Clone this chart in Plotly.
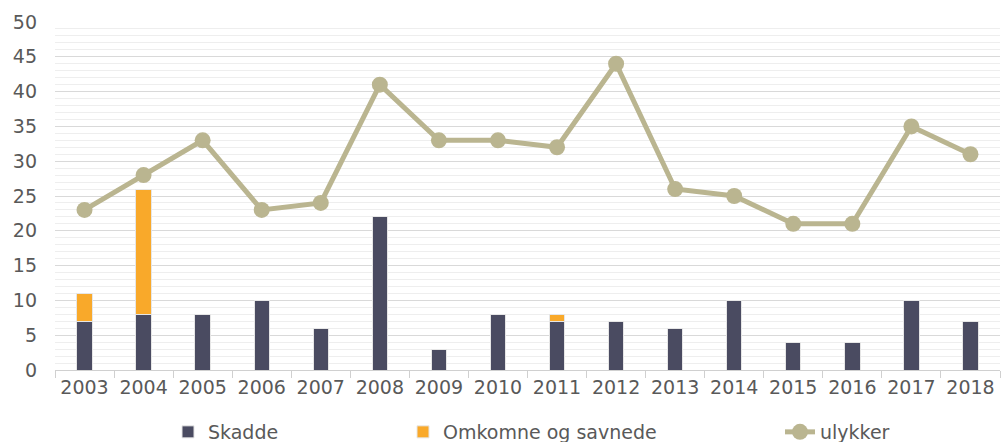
import plotly.graph_objects as go

years = [str(y) for y in range(2003, 2019)]
skadde = [7, 8, 8, 10, 6, 22, 3, 8, 7, 7, 6, 10, 4, 4, 10, 7]
omkomne = [4, 18, 0, 0, 0, 0, 0, 0, 1, 0, 0, 0, 0, 0, 0, 0]
ulykker = [23, 28, 33, 23, 24, 41, 33, 33, 32, 44, 26, 25, 21, 21, 35, 31]

FONT = "DejaVu Sans"
TXT = "#595959"
W, H = 1005, 442

fig = go.Figure()
fig.add_trace(go.Bar(
    x=years, y=skadde, name="Skadde",
    marker=dict(color="#4a4b61", line=dict(color="#e6e6e6", width=1)),
    legend="legend",
))
fig.add_trace(go.Bar(
    x=years, y=omkomne, name="Omkomne og savnede",
    marker=dict(color="#f9a92a", line=dict(color="#e6e6e6", width=1)),
    legend="legend2",
))
fig.add_trace(go.Scatter(
    x=years, y=ulykker, name="ulykker", mode="lines+markers",
    line=dict(color="#bab590", width=5),
    marker=dict(color="#bab590", size=16),
    legend="legend3",
))

legend_common = dict(
    orientation="h", xref="container", yref="container",
    yanchor="middle", y=(H - 432) / H, xanchor="left",
    font=dict(family=FONT, size=19, color=TXT),
    bgcolor="rgba(0,0,0,0)", itemwidth=30,
)

fig.update_layout(
    showlegend=True,
    barmode="stack",
    bargap=0.74,
    width=W, height=H,
    margin=dict(l=55, r=5, t=22, b=72, autoexpand=False),
    plot_bgcolor="white", paper_bgcolor="white",
    font=dict(family=FONT, size=19, color=TXT),
    legend=dict(x=168 / W, **legend_common),
    legend2=dict(x=403 / W, **legend_common),
    legend3=dict(x=780 / W, **legend_common),
    xaxis=dict(
        type="category",
        range=[-0.5, len(years) - 0.5],
        showgrid=False,
        showline=True, linecolor="#d0d0d0", linewidth=1,
        ticks="outside", tickson="boundaries", ticklen=7, tickcolor="#d0d0d0",
        tickangle=0,
        tickfont=dict(family=FONT, size=19, color=TXT),
    ),
    yaxis=dict(
        range=[0, 50], dtick=5, tick0=0,
        showgrid=True, gridcolor="#d9d9d9", gridwidth=1,
        zeroline=False, showline=False,
        tickfont=dict(family=FONT, size=19, color=TXT),
        ticklabelstandoff=17,
        minor=dict(dtick=1, showgrid=True, gridcolor="#eeeeee", gridwidth=1),
    ),
)

fig.write_html("out.html")
